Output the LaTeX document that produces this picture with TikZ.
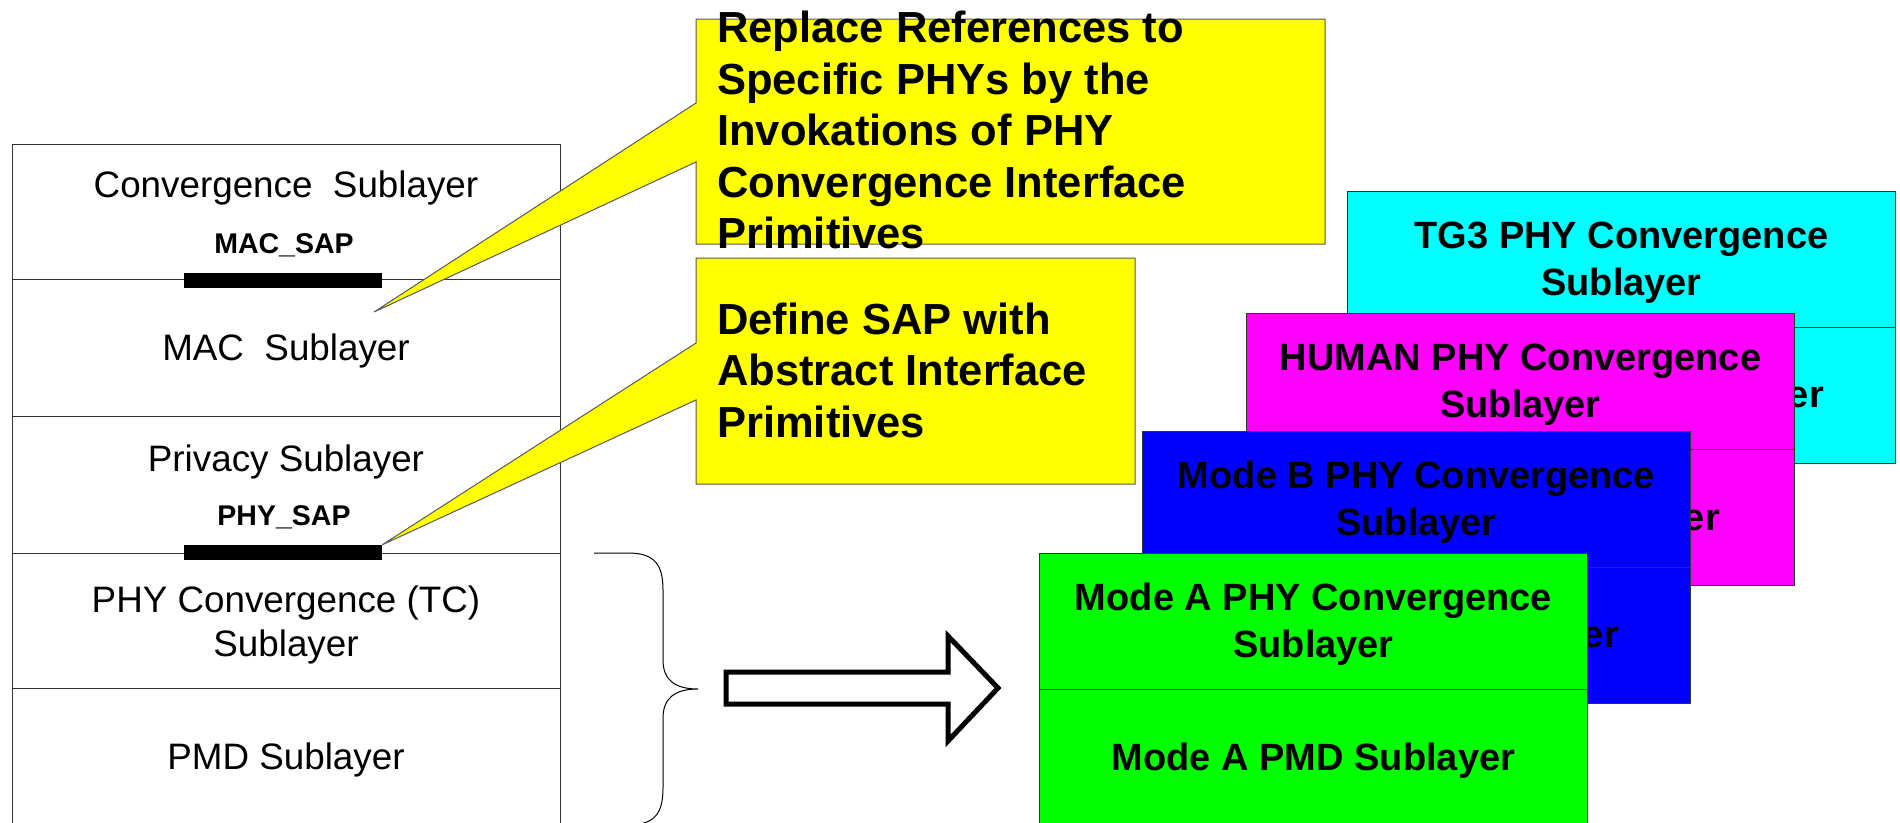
\documentclass[tikz,border=0pt]{standalone}
\usepackage{fontspec}
\setmainfont{Liberation Sans}
\definecolor{cyanfill}{RGB}{0,255,255}
\definecolor{magentafill}{RGB}{255,0,255}
\definecolor{bluefill}{RGB}{0,0,255}
\definecolor{greenfill}{RGB}{0,255,0}
\definecolor{yellowfill}{RGB}{255,255,0}
\tikzset{
  row/.style={draw=black!80, line width=1.2pt, inner sep=0pt, minimum width=548pt, anchor=north west, fill=white},
  lbl/.style={font=\fontsize{36.8}{44.5}\selectfont, align=center, inner sep=0pt},
  sap/.style={font=\fontsize{28.5}{32}\selectfont\bfseries, inner sep=0pt},
  sapbar/.style={fill=black, draw=none, minimum width=198pt, minimum height=15pt, inner sep=0pt},
  callout/.style={fill=yellowfill, draw=black!65, line width=1pt},
  ctext/.style={font=\fontsize{43.5}{51.5}\selectfont\bfseries, align=left, inner sep=0pt, anchor=west},
  phybox/.style={draw=black!80, line width=1pt, inner sep=0pt, minimum width=548pt, minimum height=136pt, anchor=north west},
  phytext/.style={font=\fontsize{38}{47}\selectfont\bfseries, align=center, inner sep=0pt},
  hidtext/.style={font=\fontsize{38}{47}\selectfont\bfseries, inner sep=0pt, anchor=east},
  braceline/.style={draw=black, line width=1pt},
  bigarrow/.style={draw=black, fill=white, line width=5pt, line join=miter},
}
\begin{document}
\begin{tikzpicture}[x=1pt,y=-1pt]
\useasboundingbox (0,0) rectangle (1900,822);
% left stack
\node[row, minimum height=135pt] (r1) at (12,144) {};
\node[row, minimum height=137pt] (r2) at (12,279) {};
\node[row, minimum height=137pt] (r3) at (12,416) {};
\node[row, minimum height=135pt] (r4) at (12,553) {};
\node[row, minimum height=137pt] (r5) at (12,688) {};
\node[lbl] (tconv) at (286,188) {Convergence\ \ Sublayer};
\node[sap] (tmacsap) at (284,245) {MAC\_SAP};
\node[lbl] (tmac) at (286,351) {MAC\ \ Sublayer};
\node[lbl] (tpriv) at (286,462) {Privacy Sublayer};
\node[sap] (tphysap) at (284,517) {PHY\_SAP};
\node[lbl] (tphy) at (286,625) {PHY Convergence (TC)\\Sublayer};
\node[lbl] (tpmd) at (286,760) {PMD Sublayer};
\node[sapbar] (bar1) at (283,280.5) {};
\node[sapbar] (bar2) at (283,552.5) {};
% callouts
\coordinate (tip1) at (374,312);
\draw[callout] (696,19) -- (1325,19) -- (1325,244) -- (696,244) -- (696,162) -- (tip1) -- (696,103) -- cycle;
\node[ctext] (c1) at (717,130) {Replace References to\\Specific PHYs by the\\Invokations of PHY\\Convergence Interface\\Primitives};
\draw[callout] (696,258) -- (1135,258) -- (1135,484) -- (696,484) -- (696,400) -- (bar2.north east) -- (696,343) -- cycle;
\node[ctext] (c2) at (717,370) {Define SAP with\\Abstract Interface\\Primitives};
% brace
\draw[braceline] (594,553) -- (628,553) .. controls (655,553) and (663,565) .. (663,590) -- (663,660)
  .. controls (663,680) and (675,689) .. (698,689)
  .. controls (675,689) and (663,698) .. (663,718) -- (663,788)
  .. controls (663,813) and (655,825) .. (628,825) -- (594,825);
% big arrow
\draw[bigarrow] (726,672) -- (948,672) -- (948,636) -- (998,688) -- (948,741) -- (948,704) -- (726,704) -- cycle;
% TG3
\node[phybox, fill=cyanfill] (tg3a) at (1347,191) {};
\node[phybox, fill=cyanfill] (tg3b) at (1347,327) {};
\node[phytext] (tg3t) at ([yshift=-3pt]tg3a.center) {TG3 PHY Convergence\\Sublayer};
\node[hidtext] (tg3h) at (1824,397) {er};
% HUMAN
\node[phybox, fill=magentafill] (huma) at (1246,313) {};
\node[phybox, fill=magentafill] (humb) at (1246,449) {};
\node[phytext] (humt) at ([yshift=-3pt]huma.center) {HUMAN PHY Convergence\\Sublayer};
\node[hidtext] (humh) at (1720,520) {er};
% Mode B
\node[phybox, fill=bluefill] (mba) at (1142,431) {};
\node[phybox, fill=bluefill] (mbb) at (1142,567) {};
\node[phytext] (mbt) at ([yshift=-3pt]mba.center) {Mode B PHY Convergence\\Sublayer};
\node[hidtext] (mbh) at (1619,637) {er};
% Mode A
\node[phybox, fill=greenfill] (maa) at (1039,553) {};
\node[phybox, fill=greenfill] (mab) at (1039,689) {};
\node[phytext] (mat) at ([yshift=-3pt]maa.center) {Mode A PHY Convergence\\Sublayer};
\node[phytext] (mapmd) at ([yshift=-3pt]mab.center) {Mode A PMD Sublayer};
\end{tikzpicture}
\end{document}
